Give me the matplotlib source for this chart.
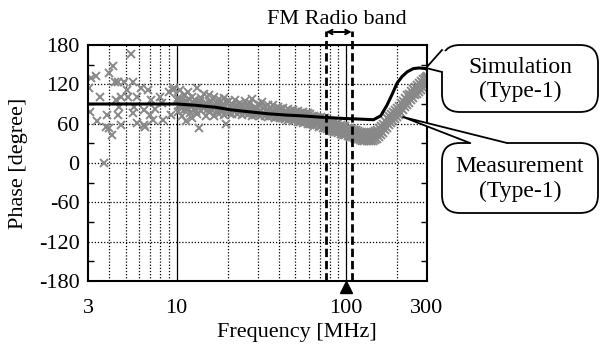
import numpy as np
import matplotlib.pyplot as plt
import matplotlib.transforms as mtransforms
from matplotlib.patches import FancyBboxPatch, Polygon
from matplotlib.lines import Line2D

# -----------------------------
# Data
# -----------------------------
# simulation (Type-1), frequency [MHz] / phase [degree]
sim_freq = [3, 5, 8, 10, 13, 17, 21, 27, 35, 45, 54, 70, 96, 120, 145, 160,
            174, 187, 200, 214, 229, 249, 270, 293, 300]
sim_phase = [90, 90, 90, 90, 88, 85, 81, 78, 75, 73, 72, 70, 68, 67, 66, 72,
             88, 105, 122, 132, 139, 144, 145, 144, 143]

# measurement (Type-1), low band 3-10 MHz (sparse)
meas_freq_lo = [3.04, 3.14, 3.36, 3.1, 3.4, 3.75, 3.52, 3.99, 4.2, 3.9, 3.85,
                4.0, 4.15, 4.3, 4.5, 4.4, 4.5, 4.6, 4.7, 4.9, 4.7, 5.2, 5.4,
                5.5, 5.1, 5.5, 5.6, 5.8, 5.8, 6.2, 6.4, 6.4, 6.5, 6.8, 7.0,
                7.1, 7.3, 7.5, 8.0, 8.2, 8.3, 9.0, 9.3, 9.5, 9.7, 10.0]
meas_phase_lo = [114, 129, 133, 78, 64, 0, 101, 138, 148, 73, 55,
                 53, 43, 124, 124, 96, 73, 86, 101, 124, 58, 101, 166,
                 124, 111, 76, 86, 61, 101, 114, 81, 58, 55, 111, 73,
                 96, 66, 83, 101, 91, 66, 109, 73, 111, 114, 96]

# 10-20 MHz
meas_freq_mid = [10.2, 10.2, 10.5, 10.5, 10.8, 10.8, 11.1, 11.1, 11.4, 11.4,
                 11.7, 11.7, 12.0, 12.0, 12.4, 12.4, 12.8, 12.8, 13.2, 13.2,
                 13.6, 13.6, 14.0, 14.0, 14.5, 14.5, 15.0, 15.0, 15.5, 15.5,
                 16.0, 16.0, 16.6, 16.6, 17.2, 17.2, 17.8, 17.8, 18.4, 18.4,
                 19.0, 19.0, 19.6, 19.6,
                 10.35, 10.65, 10.95, 11.25, 11.55, 11.85, 12.2, 12.6, 13.0,
                 13.4, 13.8, 14.25, 14.75, 15.25, 15.75, 16.3, 16.9, 17.5,
                 18.1, 18.7, 19.3, 19.9]
meas_phase_mid = [99, 78, 112, 86, 92, 72, 104, 81, 95, 64,
                  108, 84, 90, 76, 101, 69, 96, 82, 115, 74,
                  93, 53, 99, 79, 106, 85, 91, 72, 104, 78,
                  95, 83, 100, 71, 92, 80, 97, 75, 89, 81,
                  99, 73, 93, 60,
                  88, 94, 85, 90, 83, 97, 86, 92, 80,
                  88, 95, 84, 89, 82, 91, 86, 84, 88,
                  83, 87, 85, 82]

# 20-60 MHz
meas_freq_hi = [20.5, 20.5, 21.2, 21.2, 22, 22, 22.8, 22.8, 23.6, 23.6,
                24.4, 24.4, 25.3, 25.3, 26.2, 26.2, 27.1, 27.1, 28, 28,
                29, 29, 30, 30, 31, 31, 32.1, 32.1, 33.2, 33.2,
                34.4, 34.4, 35.6, 35.6, 36.8, 36.8, 38.1, 38.1, 39.4, 39.4,
                40.8, 40.8, 42.2, 42.2, 43.7, 43.7, 45.2, 45.2, 46.8, 46.8,
                48.4, 48.4, 50, 50, 51.8, 51.8, 53.6, 53.6, 55.5, 55.5,
                57.4, 57.4, 59.4, 59.4,
                20.85, 21.6, 22.4, 23.2, 24.0, 24.85, 25.75, 26.65, 27.55,
                28.5, 29.5, 30.5, 31.55, 32.65, 33.8, 35.0, 36.2, 37.45,
                38.75, 40.1, 41.5, 42.95, 44.45, 46.0, 47.6, 49.2, 50.9,
                52.7, 54.55, 56.45, 58.4, 60.3]
meas_phase_hi = [94, 77, 90, 75, 96, 79, 88, 74, 92, 78,
                 89, 73, 95, 76, 87, 74, 91, 77, 98, 72,
                 86, 73, 90, 75, 88, 71, 93, 74, 85, 72,
                 89, 70, 84, 71, 88, 73, 83, 69, 86, 70,
                 82, 68, 84, 69, 80, 67, 83, 66, 79, 67,
                 81, 64, 78, 65, 80, 62, 76, 63, 78, 61,
                 75, 62, 76, 60,
                 85, 82, 86, 81, 84, 83, 80, 84, 82,
                 79, 81, 78, 80, 77, 79, 76, 78, 75,
                 77, 74, 76, 73, 75, 72, 74, 70, 73,
                 69, 71, 68, 70, 67]

# 60-300 MHz (dense)
meas_freq_top = [61.2, 63, 65, 67, 69, 71, 73, 75, 77.5, 80, 82.5, 85, 87.5,
                 90, 93, 96, 99, 102, 105, 108, 111, 114, 117, 120, 124, 128,
                 132, 136, 140, 144, 148, 152, 156, 160, 165, 170, 175, 180,
                 185, 190, 195, 200, 206, 212, 218, 224, 230, 236, 242, 248,
                 255, 262, 269, 276, 283, 290, 296, 300]
meas_upper = [74, 72, 71, 70, 69, 70, 67, 68, 66, 64, 62, 63, 60,
              61, 58, 57, 56, 54, 53, 52, 51, 50, 49, 48, 47, 46,
              46, 46, 47, 48, 49, 51, 53, 56, 60, 64, 68, 72,
              75, 78, 81, 84, 87, 91, 95, 99, 103, 106, 110, 113,
              116, 119, 122, 125, 128, 130, 131, 132]
meas_middle = [67, 65, 66, 64, 62, 63, 60, 61, 58, 57, 56, 54, 55,
               52, 51, 50, 49, 48, 46, 46, 44, 44, 42, 41, 41, 40,
               39, 40, 40, 41, 42, 44, 46, 49, 53, 57, 61, 65,
               68, 71, 74, 77, 80, 84, 88, 92, 96, 99, 103, 106,
               110, 113, 116, 119, 122, 124, 126, 128]
meas_lower = [59, 60, 57, 58, 55, 56, 54, 53, 52, 50, 49, 48, 47,
              46, 45, 43, 42, 41, 40, 39, 38, 37, 36, 35, 34, 33,
              33, 34, 33, 34, 35, 37, 39, 42, 46, 50, 54, 58,
              61, 64, 67, 70, 73, 77, 81, 85, 89, 92, 96, 99,
              103, 106, 109, 112, 115, 117, 120, 123]

fm_band = [76, 108]

# -----------------------------
# Figure
# -----------------------------
plt.rcParams['font.family'] = ['Liberation Serif', 'DejaVu Serif']
plt.rcParams['font.size'] = 16
plt.rcParams['axes.unicode_minus'] = False

fig = plt.figure(figsize=(6, 3.48), dpi=100)
ax = fig.add_axes([88 / 600, 1 - 281 / 348, (427 - 88) / 600, (281 - 45) / 348])

# pixel coords (origin top-left) -> figure
px = mtransforms.Affine2D().scale(1 / 600, -1 / 348).translate(0, 1) + fig.transFigure
xdata_ypx = mtransforms.blended_transform_factory(ax.transData, px)

ax.set_xscale('log')
ax.set_xlim(3, 300)
ax.set_ylim(-180, 180)

# grid
for f in [4, 5, 6, 7, 8, 9, 20, 30, 40, 50, 60, 70, 80, 90, 200]:
    ax.axvline(f, color='k', ls=(0, (1, 1.5)), lw=0.9, zorder=1)
for f in [10, 100]:
    ax.axvline(f, color='k', lw=0.9, zorder=1)
for p in [-120, -60, 0, 60, 120]:
    ax.axhline(p, color='k', ls=(0, (1, 1.5)), lw=0.9, zorder=1)

ax.set_xticks([3, 10, 100, 300])
ax.set_xticklabels(['3', '10', '100', '300'])
ax.xaxis.set_minor_locator(plt.NullLocator())
ax.set_yticks([-180, -120, -60, 0, 60, 120, 180])
ax.set_yticks([-150, -90, -30, 30, 90, 150], minor=True)
ax.tick_params(axis='x', which='major', length=0, pad=13)
ax.tick_params(axis='y', which='major', length=0, pad=6)
ax.tick_params(axis='y', which='minor', direction='in', length=4, width=1,
               left=True, right=True)
for s in ax.spines.values():
    s.set_linewidth(1.5)

# measurement
meas_f = meas_freq_lo + meas_freq_mid + meas_freq_hi + meas_freq_top * 3
meas_p = meas_phase_lo + meas_phase_mid + meas_phase_hi + meas_upper + meas_middle + meas_lower
ax.plot(meas_f, meas_p, 'x', color='#888888', ms=5.5, mew=1.4, zorder=2)

# simulation
ax.plot(sim_freq, sim_phase, color='k', lw=2.2, zorder=3)

# FM band markers
for f in fm_band:
    ax.add_line(Line2D([f, f], [281, 31], transform=xdata_ypx, color='k',
                       lw=2.0, ls=(0, (3, 1.4)), clip_on=False, zorder=4))
ax.annotate('', xy=(fm_band[0], 32), xytext=(fm_band[1], 32), xycoords=xdata_ypx,
            textcoords=xdata_ypx,
            arrowprops=dict(arrowstyle='<->', lw=1.4, shrinkA=0, shrinkB=0,
                            mutation_scale=8, color='k'), annotation_clip=False)
fig.text(337, 20, 'FM Radio band', transform=px, ha='center', va='center')

# triangle at 100 MHz
ax.plot([100], [287], marker='^', ms=8, color='k', transform=xdata_ypx, clip_on=False)


def callout(x0, y0, x1, y1, tip, b1, b2, text):
    box = FancyBboxPatch((x0, y0), x1 - x0, y1 - y0,
                         boxstyle='round,pad=0,rounding_size=18', transform=px,
                         fc='white', ec='k', lw=1.3)
    fig.add_artist(box)
    mx, my = (x0 + x1) / 2, (y0 + y1) / 2
    # white wedge over the box edge
    k = 0.06
    ins1 = (b1[0] + (mx - b1[0]) * k, b1[1] + (my - b1[1]) * k)
    ins2 = (b2[0] + (mx - b2[0]) * k, b2[1] + (my - b2[1]) * k)
    fig.add_artist(Polygon([tip, b1, ins1, ins2, b2], closed=True, transform=px,
                           fc='white', ec='none'))
    fig.add_artist(Line2D([b1[0], tip[0], b2[0]], [b1[1], tip[1], b2[1]],
                          transform=px, color='k', lw=1.3))
    fig.text(mx, my + 1, text, transform=px, ha='center', va='center',
             linespacing=1.2, fontsize=17)


callout(442, 45, 598, 112, (426, 68), (442, 50), (442, 72), 'Simulation\n(Type-1)')
callout(442, 143, 598, 213, (403, 117), (507, 143), (470, 143), 'Measurement\n(Type-1)')

fig.text(297, 333, 'Frequency [MHz]', transform=px, ha='center', va='center')
fig.text(19, 163, 'Phase [degree]', transform=px, ha='center', va='center',
         rotation=90)

fig.savefig('out.png', dpi=100)
